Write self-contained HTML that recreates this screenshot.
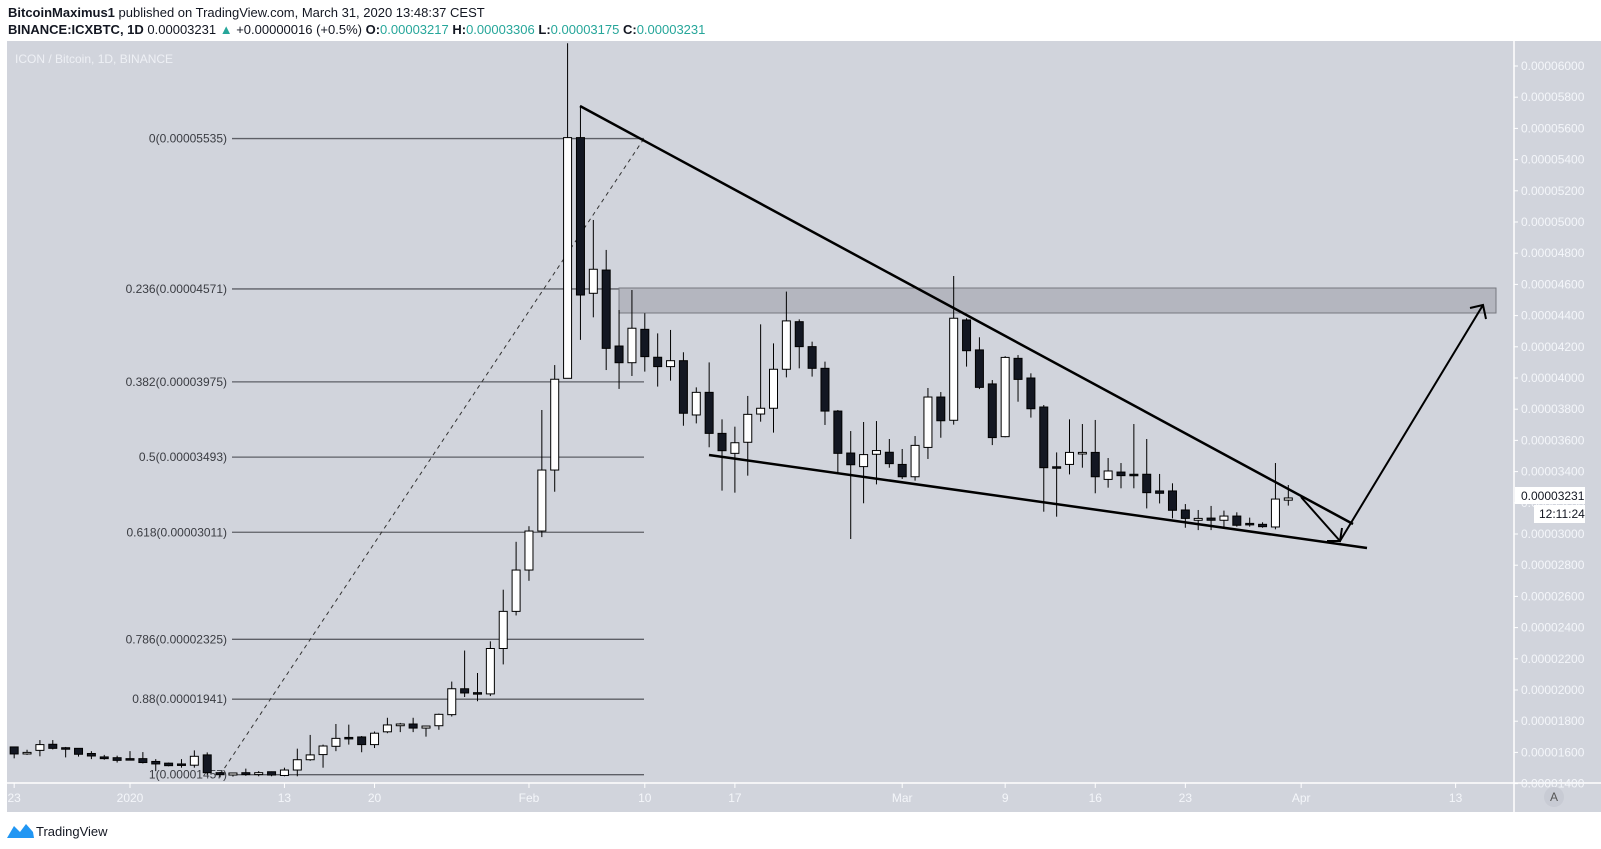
<!DOCTYPE html>
<html><head><meta charset="utf-8"><style>
html,body{margin:0;padding:0;background:#fff;}
svg{display:block;font-family:"Liberation Sans",sans-serif;}
</style></head><body>
<svg id="chart" width="1601" height="849" viewBox="0 0 1601 849" xmlns="http://www.w3.org/2000/svg">
<text x="8" y="17" font-size="13" fill="#131722"><tspan font-weight="bold">BitcoinMaximus1</tspan> published on TradingView.com, March 31, 2020 13:48:37 CEST</text>
<text x="8" y="34" font-size="13" fill="#131722"><tspan font-weight="bold">BINANCE:ICXBTC, 1D</tspan> 0.00003231 <tspan fill="#26a69a">▲</tspan> +0.00000016 (+0.5%) <tspan font-weight="bold">O:</tspan><tspan fill="#26a69a">0.00003217</tspan> <tspan font-weight="bold">H:</tspan><tspan fill="#26a69a">0.00003306</tspan> <tspan font-weight="bold">L:</tspan><tspan fill="#26a69a">0.00003175</tspan> <tspan font-weight="bold">C:</tspan><tspan fill="#26a69a">0.00003231</tspan></text>
<rect x="7" y="41" width="1594" height="771" fill="#d1d4dc"/>
<text x="15" y="63" font-size="12" fill="#eef0f5">ICON / Bitcoin, 1D, BINANCE</text>
<line x1="7" y1="783" x2="1601" y2="783" stroke="#fff" stroke-width="1.5"/>
<line x1="1514" y1="41" x2="1514" y2="812" stroke="#fff" stroke-width="1.5"/>
<g id="yaxis"></g>
<g id="xaxis"></g>
<g id="fib"></g>
<rect x="619" y="288" width="877" height="25" fill="#b4b6bf" stroke="#76787f" stroke-width="1"/>
<g id="candles"></g>
<line x1="580" y1="106" x2="1353" y2="524" stroke="#000" stroke-width="2.5"/>
<line x1="709" y1="455" x2="1367" y2="548" stroke="#000" stroke-width="2.5"/>
<polyline points="1301,497 1340,541 1483,305" fill="none" stroke="#000" stroke-width="2"/>
<polyline points="1327,541 1340,541 1342,528" fill="none" stroke="#000" stroke-width="2"/>
<polyline points="1470,308 1483,305 1486,319" fill="none" stroke="#000" stroke-width="2"/>
<rect x="1515" y="487" width="70" height="17" fill="#fff"/>
<text x="1521" y="500" font-size="12" fill="#131722">0.00003231</text>
<rect x="1534" y="505" width="51" height="18" fill="#fff"/>
<text x="1539" y="518" font-size="12" fill="#131722">12:11:24</text>
<circle cx="1554" cy="797" r="10" fill="#c8cbd4"/>
<text x="1554" y="801" font-size="12" fill="#555" text-anchor="middle">A</text>
<g>
<path d="M7 838 L14 826 L20 832 L26 824 L33 832 L34 838 Z" fill="#2196f3"/>
<text x="36" y="836" font-size="13" fill="#131722">TradingView</text>
</g>
</svg>
<script>
// ---- data (prices in 1e-8 BTC), day index from Jan 1, 2020 ----
const startDay = -9;
const opens  = [1635,1590,1613,1652,1630,1626,1593,1571,1566,1560,1560,1542,1531,1526,1518,1584,1470,1455,1470,1458,1476,1452,1487,1553,1586,1639,1696,1699,1650,1732,1771,1782,1756,1771,1842,2008,1983,1975,2266,2504,2769,3019,3410,3998,5541,4543,4692,4205,4098,4312,4133,4073,4111,3763,3908,3645,3517,3588,3769,3806,4056,4361,4201,4062,3788,3519,3432,3511,3524,3446,3367,3555,3878,3729,4372,4180,3962,3624,4126,4000,3814,3431,3446,3513,3523,3350,3397,3383,3383,3276,3276,3154,3088,3102,3088,3115,3068,3062,3045,3217];
const highs  = [1637,1617,1679,1679,1635,1628,1608,1584,1579,1608,1602,1557,1535,1557,1613,1600,1475,1470,1496,1480,1478,1502,1624,1712,1650,1782,1778,1705,1734,1822,1789,1822,1771,1849,2054,2253,2109,2312,2643,2950,3050,3795,4083,6146,5740,5013,4821,4436,4564,4415,4286,4308,4165,3940,4100,3735,3688,3885,4344,4222,4554,4376,4233,4105,3795,3660,3718,3724,3609,3545,3628,3936,3910,4654,4383,4261,3987,4140,4147,4030,3827,3523,3735,3705,3731,3487,3455,3705,3609,3385,3325,3192,3154,3180,3150,3139,3105,3075,3455,3314];
const lows   = [1562,1584,1575,1619,1568,1573,1557,1553,1535,1553,1529,1480,1511,1502,1502,1457,1440,1445,1450,1447,1447,1447,1447,1546,1502,1608,1650,1601,1628,1723,1730,1730,1701,1745,1830,1955,1928,1961,2164,2478,2700,2980,3271,3998,4244,4389,4051,3930,4013,4041,3945,3983,3694,3709,3556,3278,3265,3374,3720,3650,4004,4062,4009,3699,3389,2968,3197,3318,3425,3353,3342,3481,3617,3701,4073,3929,3570,3620,3848,3746,3143,3111,3382,3425,3261,3297,3293,3293,3164,3196,3100,3040,3025,3025,3040,3047,3047,3040,3030,3182];
const closes = [1590,1600,1650,1626,1626,1588,1577,1560,1549,1558,1535,1526,1515,1518,1575,1470,1457,1468,1458,1470,1455,1487,1553,1584,1641,1690,1692,1650,1723,1776,1782,1756,1769,1844,2008,1981,1977,2266,2504,2769,3019,3410,3992,5541,4532,4697,4190,4098,4319,4137,4073,4111,3774,3908,3645,3534,3585,3767,3806,4056,4366,4201,4062,3788,3517,3444,3509,3535,3451,3367,3568,3878,3726,4383,4175,3940,3618,4132,3991,3803,3425,3427,3523,3523,3367,3404,3374,3376,3265,3261,3152,3100,3100,3088,3115,3056,3062,3047,3224,3231];
const priceTicks = [6000,5800,5600,5400,5200,5000,4800,4600,4400,4200,4000,3800,3600,3400,3200,3000,2800,2600,2400,2200,2000,1800,1600,1400];
const timeTickDays = [-9,0,12,19,31,40,47,60,68,75,82,91,103];
const timeTickLabels = ["23","2020","13","20","Feb","10","17","Mar","9","16","23","Apr","13"];
const fibRatios = ["0","0.236","0.382","0.5","0.618","0.786","0.88","1"];
const fibPrices = [5535,4571,3975,3493,3011,2325,1941,1457];

const NS = "http://www.w3.org/2000/svg";
function y(p){ return 66 + (6000 - p) / 200 * 31.2; }
function x(d){ return 130 + d * 12.87; }
function mk(tag, attrs, parent){ const e = document.createElementNS(NS, tag); for (const k in attrs) e.setAttribute(k, attrs[k]); parent.appendChild(e); return e; }
function fmt(p){ return (p/1e8).toFixed(8); }

const ya = document.getElementById('yaxis');
priceTicks.forEach(p => {
  const t = mk('text', {x:1521, y:y(p)+4, 'font-size':12, fill:'#f4f6fa'}, ya);
  t.textContent = fmt(p);
  
  
  const l = mk('line', {x1:1514, x2:1518, y1:y(p), y2:y(p), stroke:'#fff'}, ya);
  
  
});
const xa = document.getElementById('xaxis');
timeTickDays.forEach((d, i) => {
  const t = mk('text', {x:x(d), y:802, 'font-size':12, fill:'#f4f6fa', 'text-anchor':'middle'}, xa);
  t.textContent = timeTickLabels[i];
  
  
  const l = mk('line', {x1:x(d), x2:x(d), y1:783, y2:788, stroke:'#fff'}, xa);
  
  
});
const fg = document.getElementById('fib');
fibPrices.forEach((p, i) => {
  const l = mk('line', {x1:232, x2:644, y1:y(p), y2:y(p), stroke:'#5d5f66', 'stroke-width':1.3}, fg);
  
  
  const t = mk('text', {x:227, y:y(p)+4, 'font-size':12, fill:'#3a3c42', 'text-anchor':'end'}, fg);
  t.textContent = fibRatios[i] + '(' + fmt(p) + ')';
  
  
});
const dl = mk('line', {x1:x(7), y1:y(fibPrices[7]), x2:644, y2:y(fibPrices[0]), stroke:'#333', 'stroke-width':1, 'stroke-dasharray':'4,4'}, fg);



const cg = document.getElementById('candles');
opens.forEach((o, i) => {
  const c = closes[i], cx = x(startDay + i), up = c >= o;
  const w = mk('line', {x1:cx, x2:cx, y1:y(highs[i]), y2:y(lows[i]), stroke:'#000', 'stroke-width':1}, cg);
  
  
  const top = y(Math.max(o, c)), bot = y(Math.min(o, c));
  const b = mk('rect', {x:cx-4, y:top, width:8, height:Math.max(1.5, bot-top), fill: up ? '#fff' : '#131722', stroke:'#000', 'stroke-width':1}, cg);
  
  
});
</script>
</body></html>
